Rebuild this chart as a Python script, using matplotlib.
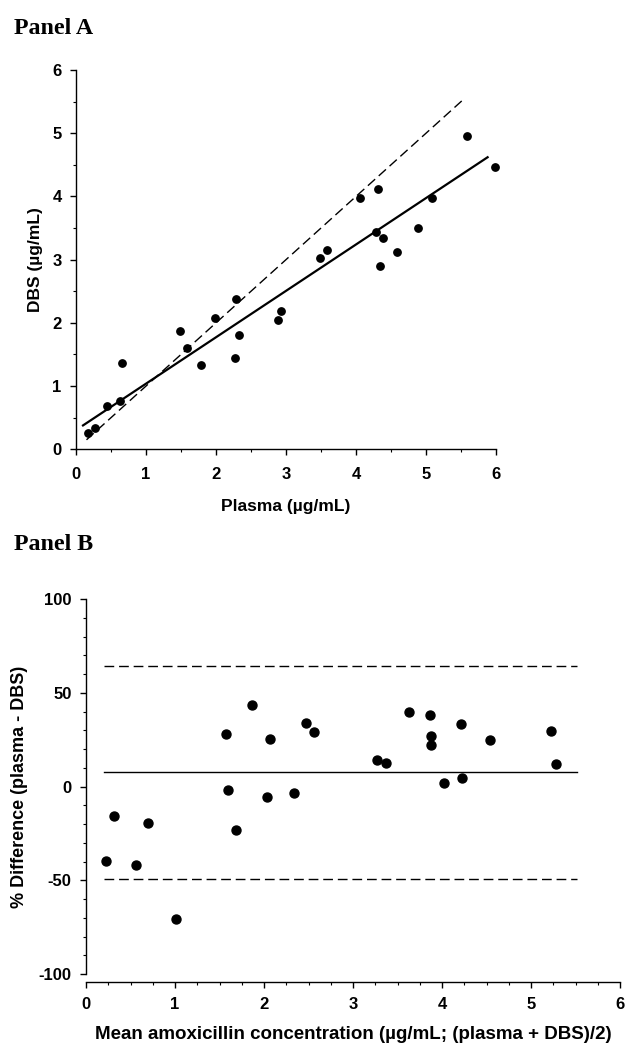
import matplotlib
matplotlib.use("Agg")
import matplotlib.pyplot as plt
import numpy as np
from matplotlib.ticker import MultipleLocator

# --- Panel A data: DBS vs plasma (ug/mL) ---
plasma = [0.17, 0.27, 0.44, 0.63, 0.65, 1.48, 1.58, 1.79, 1.98, 2.27, 2.29, 2.33, 2.89,
          2.93, 3.49, 3.58, 4.05, 4.31, 4.29, 4.39, 4.34, 4.59, 4.89, 5.09, 5.58, 5.98]
dbs = [0.26, 0.33, 0.68, 0.77, 1.37, 1.87, 1.60, 1.34, 2.08, 1.45, 2.38, 1.80, 2.05,
       2.19, 3.03, 3.15, 3.98, 4.12, 3.44, 3.35, 2.90, 3.12, 3.50, 3.98, 4.96, 4.46]
reg_slope, reg_intercept = 0.734, 0.304
reg_range = [0.1, 5.88]
identity_range = [0.15, 5.52]

# --- Panel B data: Bland-Altman ---
mean_conc = [0.22, 0.31, 0.56, 0.70, 1.01, 1.57, 1.59, 1.68, 1.86, 2.03, 2.07, 2.34, 2.47,
             2.56, 3.27, 3.37, 3.63, 3.86, 3.88, 3.88, 4.02, 4.21, 4.23, 4.54, 5.23, 5.28]
pct_diff = [-39.9, -15.9, -41.8, -19.4, -70.8, 28.1, -1.6, -23.0, 43.6, -5.4, 25.6, -3.7, 34.0,
            29.2, 14.2, 12.8, 39.8, 38.4, 27.0, 22.4, 1.9, 33.3, 4.6, 24.9, 29.5, 11.9]
bias = 7.6
loa_upper, loa_lower = 64.1, -49.1
line_range = [0.2, 5.52]

plt.rcParams.update({
    "font.family": ["Liberation Sans", "DejaVu Sans"],
    "font.weight": "bold",
    "font.size": 11,
    "axes.labelweight": "bold",
    "axes.linewidth": 1.0,
    "axes.unicode_minus": False,
    "xtick.direction": "out",
    "ytick.direction": "out",
})

fig = plt.figure(figsize=(6.25, 10.48), dpi=100)

def style_axes(ax, xpad, ypad):
    ax.spines["top"].set_visible(False)
    ax.spines["right"].set_visible(False)
    ax.tick_params(which="major", length=4.3, width=1.0, labelsize=12)
    ax.tick_params(which="minor", length=2.2, width=0.8)
    ax.tick_params(axis="x", which="major", pad=xpad)
    ax.tick_params(axis="y", which="major", pad=ypad)
    for lab in ax.get_xticklabels() + ax.get_yticklabels():
        lab.set_fontweight("bold")

# ================================
#  PANEL A
# ================================
axA = fig.add_axes([0.1216, 0.5713, 0.672, 0.3619])
axA.scatter(plasma, dbs, s=28, color="black", zorder=3, clip_on=False)
xr = np.array(reg_range)
axA.plot(xr, reg_slope * xr + reg_intercept, color="black", lw=1.6)
axA.plot(identity_range, identity_range, color="black", lw=1.0, dashes=(7, 3.5))
axA.set_xlim(0, 6)
axA.set_ylim(0, 6)
axA.xaxis.set_major_locator(MultipleLocator(1))
axA.xaxis.set_minor_locator(MultipleLocator(0.5))
axA.yaxis.set_major_locator(MultipleLocator(1))
axA.yaxis.set_minor_locator(MultipleLocator(0.5))
axA.set_xlabel("Plasma (µg/mL)", fontsize=12.5, labelpad=12)
axA.set_ylabel("DBS (µg/mL)", fontsize=12.5, labelpad=7)
style_axes(axA, 8.5, 6)
fig.text(14 / 625, 1 - 28 / 1048, "Panel A", family="Liberation Serif",
         fontweight="bold", fontsize=17.3, va="center")

# ================================
#  PANEL B
# ================================
axB = fig.add_axes([0.1376, 0.0706, 0.8544, 0.3578])
axB.scatter(mean_conc, pct_diff, s=42, color="black", zorder=3)
axB.plot(line_range, [bias, bias], color="black", lw=1.0)
axB.plot(line_range, [loa_upper, loa_upper], color="black", lw=1.0, dashes=(7, 3.5))
axB.plot(line_range, [loa_lower, loa_lower], color="black", lw=1.0, dashes=(7, 3.5))
axB.set_xlim(0, 6)
axB.set_ylim(-100, 100)
axB.spines["bottom"].set_position(("outward", 6))
axB.xaxis.set_major_locator(MultipleLocator(1))
axB.xaxis.set_minor_locator(MultipleLocator(0.25))
axB.yaxis.set_major_locator(MultipleLocator(50))
axB.yaxis.set_minor_locator(MultipleLocator(10))
axB.set_xlabel("Mean amoxicillin concentration (µg/mL; (plasma + DBS)/2)", fontsize=13.5, labelpad=10)
axB.set_ylabel("% Difference (plasma - DBS)", fontsize=13, labelpad=8)
style_axes(axB, 6, 6)
fig.text(14 / 625, 1 - 545 / 1048, "Panel B", family="Liberation Serif",
         fontweight="bold", fontsize=17.3, va="center")

fig.savefig("out.png", dpi=100)
